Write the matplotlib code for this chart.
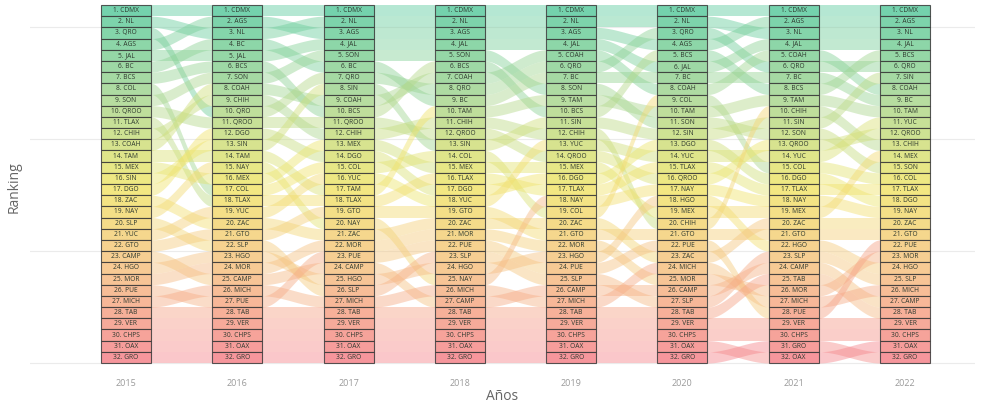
import numpy as np
import matplotlib
matplotlib.use("Agg")
import matplotlib.pyplot as plt
from matplotlib.colors import LinearSegmentedColormap
from matplotlib.patches import Rectangle

plt.rcParams['font.family'] = ['Open Sans', 'DejaVu Sans']

years = ["2015", "2016", "2017", "2018", "2019", "2020", "2021", "2022"]

# ranking order (1st to 32nd) per year
rank_2015 = ["CDMX", "NL", "QRO", "AGS", "JAL", "BC", "BCS", "COL", "SON", "QROO", "TLAX", "CHIH",
             "COAH", "TAM", "MEX", "SIN", "DGO", "ZAC", "NAY", "SLP", "YUC", "GTO", "CAMP", "HGO",
             "MOR", "PUE", "MICH", "TAB", "VER", "CHPS", "OAX", "GRO"]
rank_2016 = ["CDMX", "AGS", "NL", "BC", "JAL", "BCS", "SON", "COAH", "CHIH", "QRO", "QROO", "DGO",
             "SIN", "TAM", "NAY", "MEX", "COL", "TLAX", "YUC", "ZAC", "GTO", "SLP", "HGO", "MOR",
             "CAMP", "MICH", "PUE", "TAB", "VER", "CHPS", "OAX", "GRO"]
rank_2017 = ["CDMX", "NL", "AGS", "JAL", "SON", "BC", "QRO", "SIN", "COAH", "BCS", "QROO", "CHIH",
             "MEX", "DGO", "COL", "YUC", "TAM", "TLAX", "GTO", "NAY", "ZAC", "MOR", "PUE", "CAMP",
             "HGO", "SLP", "MICH", "TAB", "VER", "CHPS", "OAX", "GRO"]
rank_2018 = ["CDMX", "NL", "AGS", "JAL", "SON", "BCS", "COAH", "QRO", "BC", "TAM", "CHIH", "QROO",
             "SIN", "COL", "MEX", "TLAX", "DGO", "YUC", "GTO", "ZAC", "MOR", "PUE", "SLP", "HGO",
             "NAY", "MICH", "CAMP", "TAB", "VER", "CHPS", "OAX", "GRO"]
rank_2019 = ["CDMX", "NL", "AGS", "JAL", "COAH", "QRO", "BC", "SON", "TAM", "BCS", "SIN", "CHIH",
             "YUC", "QROO", "MEX", "DGO", "TLAX", "NAY", "COL", "ZAC", "GTO", "MOR", "HGO", "PUE",
             "SLP", "CAMP", "MICH", "TAB", "VER", "CHPS", "OAX", "GRO"]
rank_2020 = ["CDMX", "NL", "QRO", "AGS", "BCS", "JAL", "BC", "COAH", "COL", "TAM", "SON", "SIN",
             "DGO", "YUC", "TLAX", "QROO", "NAY", "HGO", "MEX", "CHIH", "GTO", "PUE", "ZAC", "MICH",
             "MOR", "CAMP", "SLP", "TAB", "VER", "CHPS", "OAX", "GRO"]
rank_2021 = ["CDMX", "AGS", "NL", "JAL", "COAH", "QRO", "BC", "BCS", "TAM", "CHIH", "SIN", "SON",
             "QROO", "YUC", "COL", "DGO", "TLAX", "NAY", "MEX", "ZAC", "GTO", "HGO", "SLP", "CAMP",
             "TAB", "MOR", "MICH", "PUE", "VER", "CHPS", "GRO", "OAX"]
rank_2022 = ["CDMX", "AGS", "NL", "JAL", "BCS", "QRO", "SIN", "COAH", "BC", "TAM", "YUC", "QROO",
             "CHIH", "MEX", "SON", "COL", "TLAX", "DGO", "NAY", "ZAC", "GTO", "PUE", "MOR", "HGO",
             "SLP", "MICH", "CAMP", "TAB", "VER", "CHPS", "OAX", "GRO"]

rankings = [rank_2015, rank_2016, rank_2017, rank_2018, rank_2019, rank_2020, rank_2021, rank_2022]
n = len(rank_2015)

cmap = LinearSegmentedColormap.from_list(
    "rank", ["#5ccb9f", "#a8d690", "#f1e66a", "#f6c083", "#f5848b"])

def rank_color(r):
    return cmap((r - 1) / (n - 1))

fig = plt.figure(figsize=(9.89, 4.05), dpi=100)
ax = fig.add_axes([30 / 989, 33 / 405, 945 / 989, 370 / 405])

xpos = np.arange(1, len(years) + 1)
box_w = 0.45
ppu = 111.29
ax.set_xlim(1 - 96 / ppu, 8 + 70 / ppu)
ax.set_ylim(-9 / 11.19, 32 + 3 / 11.19)

for g in [0, 10, 20, 30]:
    ax.axhline(g, color="#ebebeb", lw=0.8, zorder=0)

# flows between consecutive years, coloured by the left rank
for i in range(len(years) - 1):
    x0 = xpos[i] + box_w / 2
    x1 = xpos[i + 1] - box_w / 2
    xs = np.linspace(x0, x1, 60)
    t = (xs - x0) / (x1 - x0)
    s = t * t * (3 - 2 * t)
    nxt = {st: k + 1 for k, st in enumerate(rankings[i + 1])}
    for k, st in enumerate(rankings[i]):
        r0 = k + 1
        r1 = nxt[st]
        yb = (n - r0) + ((n - r1) - (n - r0)) * s
        ax.fill_between(xs, yb, yb + 1, color=rank_color(r0), alpha=0.45, lw=0, zorder=1)

# strata boxes
for i, yr in enumerate(years):
    for k, st in enumerate(rankings[i]):
        r = k + 1
        ax.add_patch(Rectangle((xpos[i] - box_w / 2, n - r), box_w, 1,
                               facecolor=rank_color(r), alpha=0.85, edgecolor="#3a3a3a",
                               lw=0.8, zorder=3))
        ax.text(xpos[i], n - r + 0.5, f"{r}. {st}", ha="center", va="center",
                fontsize=4.8, color="#2f3a2f", zorder=4)

ax.set_xticks(xpos)
ax.set_xticklabels(years, fontsize=6.5, color="#9a9a9a")
ax.set_yticks([])
ax.tick_params(axis="x", length=0, pad=5)
for sp in ax.spines.values():
    sp.set_visible(False)

ax.set_xlabel("Años", fontsize=10, color="#666666", labelpad=1)
ax.set_ylabel("Ranking", fontsize=10, color="#666666", labelpad=6)

fig.savefig("out.png", dpi=100)
